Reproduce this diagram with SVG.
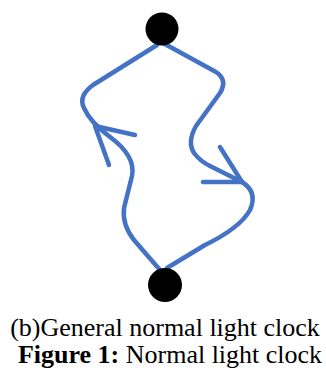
<svg xmlns="http://www.w3.org/2000/svg" width="326" height="374" viewBox="0 0 326 374">
<style>
.p{fill:none;stroke:#4472C4;stroke-width:4.5;stroke-linecap:round;stroke-linejoin:round}
.dot{fill:#000}
.t{font-family:"Liberation Serif","Times New Roman",serif;font-size:26px;fill:#000}
</style>
<rect width="326" height="374" fill="#fff"/>
<g id="connectors">
<path class="p" d="M157,45 L93,85 Q78,96 84,108 Q90,122 110,137 Q136,156 132,176 Q127,196 124,208 Q122,225 134,240 L160,270"/>
<path class="p" d="M95,126 L135,135 M95,126 Q100,140 109,165"/>
<path class="p" d="M163,43 L216,72 Q228,80 220,93 L196,126 Q187,142 194,153 Q200,161 210,166 L242,182 Q258,192 250,210 Q240,228 205,245 L167,268"/>
<path class="p" d="M242,182 L220,147 M242,182 L203,182"/>
</g>
<g id="top-node"><circle class="dot" cx="162" cy="29" r="16.5"/></g>
<g id="bottom-node"><circle class="dot" cx="165" cy="285" r="17"/></g>
<g id="caption">
<text class="t" x="165" y="336" text-anchor="middle">(b)General normal light clock</text>
<text class="t" x="170" y="363" text-anchor="middle"><tspan font-weight="bold">Figure 1:</tspan> Normal light clock</text>
</g>
</svg>
